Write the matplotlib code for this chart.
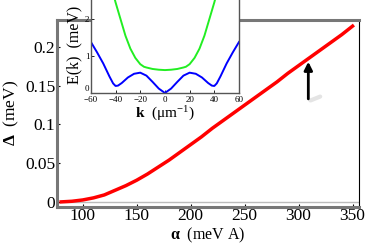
import matplotlib
matplotlib.use("Agg")
import matplotlib.pyplot as plt

plt.rcParams['font.family'] = ['Liberation Serif', 'DejaVu Serif']
plt.rcParams['mathtext.fontset'] = 'custom'
plt.rcParams['mathtext.rm'] = 'Liberation Serif'
plt.rcParams['mathtext.bf'] = 'Liberation Serif:bold'
plt.rcParams['mathtext.it'] = 'Liberation Serif:italic'

# main curve: gap vs spin-orbit strength
alpha = [80, 90, 100, 110, 120, 130, 140, 150, 160, 170, 180, 190, 200, 210,
         220, 230, 240, 250, 260, 270, 280, 290, 300, 310, 320, 330, 340, 350]
delta = [0.0, 0.0008, 0.0025, 0.0052, 0.009, 0.015, 0.021, 0.028, 0.036, 0.045,
         0.054, 0.064, 0.074, 0.084, 0.095, 0.105, 0.115, 0.125, 0.135, 0.145,
         0.155, 0.166, 0.176, 0.186, 0.196, 0.206, 0.216, 0.227]

# inset: dispersion
k_blue = [-60, -55, -50, -45, -42, -40, -38, -35, -30, -25, -20, -15, -10, -5, 0,
          5, 10, 15, 20, 25, 30, 35, 38, 40, 42, 45, 50, 55, 60]
e_blue = [1.38, 1.1, 0.8, 0.45, 0.26, 0.19, 0.2, 0.27, 0.42, 0.52, 0.55, 0.47, 0.3, 0.12, 0.0,
          0.12, 0.3, 0.47, 0.55, 0.52, 0.42, 0.27, 0.2, 0.19, 0.26, 0.45, 0.8, 1.1, 1.38]
k_green = [-42, -40, -36, -32, -28, -24, -20, -17, -15, -10, -5, 0,
           5, 10, 15, 17, 20, 24, 28, 32, 36, 40, 42]
e_green = [2.7, 2.45, 2.0, 1.55, 1.2, 0.95, 0.78, 0.71, 0.69, 0.65, 0.63, 0.62,
           0.63, 0.65, 0.69, 0.71, 0.78, 0.95, 1.2, 1.55, 2.0, 2.45, 2.7]

fig = plt.figure(figsize=(3.74, 2.49), dpi=100)
ax = fig.add_axes([0.152, 0.169, 0.808, 0.751])

ax.axhline(0, color='#bbbbbb', lw=1.0, zorder=1)
ax.plot(alpha, delta, color='red', lw=2.5, zorder=3)
ax.annotate('', xy=(309, 0.181), xytext=(309, 0.133),
            arrowprops=dict(arrowstyle='-|>', color='black', lw=2.0,
                            mutation_scale=12, shrinkA=0, shrinkB=0))
ax.plot([311, 320], [0.131, 0.136], color='#e4e4e4', lw=3, solid_capstyle='round', zorder=1)

ax.set_xlim(76, 356)
ax.set_ylim(-0.0065, 0.235)
ax.set_xticks([100, 150, 200, 250, 300, 350])
ax.set_yticks([0, 0.05, 0.1, 0.15, 0.2])
ax.set_yticklabels(['0', '0.05', '0.1', '0.15', '0.2'])
ax.tick_params(labelsize=12.5, direction='in', length=2.5, width=0.8, pad=1)
ax.set_xlabel(r'$\mathbf{\alpha}$  (meV A)', fontsize=11.5, labelpad=1)
ax.set_ylabel(r'$\mathbf{\Delta}$  (meV)', fontsize=12.5, labelpad=3)
for s in ['left', 'bottom', 'top']:
    ax.spines[s].set_color('#777777')
    ax.spines[s].set_linewidth(2.2)
ax.spines['right'].set_color('black')
ax.spines['right'].set_linewidth(0.8)

ins = fig.add_axes([0.243, 0.6265, 0.396, 0.386])
ins.plot(k_blue, e_blue, color='blue', lw=1.4)
ins.plot(k_green, e_green, color='#22ee22', lw=1.4)
ins.set_xlim(-60, 60)
ins.set_ylim(0, 2.6)
ins.set_xticks([-60, -40, -20, 0, 20, 40, 60])
ins.set_yticks([0, 1, 2])
ins.tick_params(labelsize=6.5, direction='in', length=2, width=0.6)
ins.tick_params(axis='x', pad=2.5)
ins.tick_params(axis='y', pad=1)
# keep the corner "0" clear of the "-60" below it
ins.yaxis.get_major_ticks()[0].label1.set_verticalalignment('bottom')
ins.set_xlabel(r'$\mathbf{k}$  ($\mathrm{\mu m^{-1}}$)', fontsize=11, labelpad=0)
ins.set_ylabel('E(k)  (meV)', fontsize=11.5, labelpad=2)
for s in ins.spines.values():
    s.set_color('#555555')
    s.set_linewidth(1.0)

fig.savefig('out.png', dpi=100)
